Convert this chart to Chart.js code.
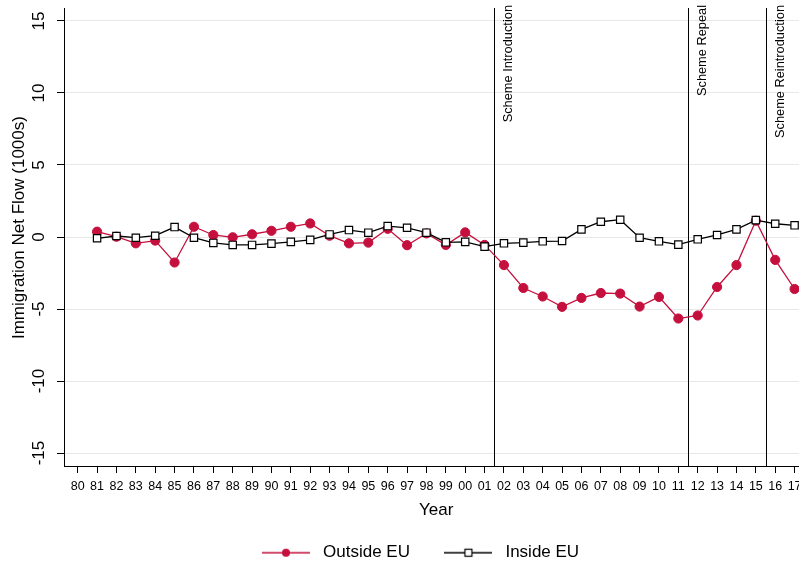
<!DOCTYPE html>
<html>
<head>
<meta charset="utf-8">
<script src="https://cdn.jsdelivr.net/npm/chart.js@4.4.0/dist/chart.umd.min.js"></script>
<style>
 html,body{margin:0;padding:0;background:#fff;}
 #wrap{width:799px;height:564px;position:relative;}
</style>
</head>
<body>
<div id="wrap"><canvas id="chart"></canvas></div>
<script>
/* data */
var years=[1981,1982,1983,1984,1985,1986,1987,1988,1989,1990,1991,1992,1993,1994,1995,1996,1997,1998,1999,2000,
 2001,2002,2003,2004,2005,2006,2007,2008,2009,2010,2011,2012,2013,2014,2015,2016,2017];
var outside_eu=[0.37,0.02,-0.44,-0.25,-1.77,0.71,0.14,-0.02,0.19,0.43,0.71,0.94,0.09,-0.44,-0.39,0.57,-0.57,0.25,-0.55,0.32,
 -0.55,-1.95,-3.54,-4.13,-4.85,-4.23,-3.89,-3.93,-4.83,-4.16,-5.66,-5.45,-3.47,-1.95,1.13,-1.59,-3.61];
var inside_eu=[-0.09,0.07,-0.05,0.09,0.69,-0.05,-0.41,-0.55,-0.55,-0.46,-0.34,-0.2,0.18,0.48,0.30,0.76,0.64,0.30,-0.37,-0.34,
 -0.67,-0.44,-0.39,-0.30,-0.28,0.53,1.06,1.20,-0.05,-0.30,-0.53,-0.16,0.14,0.53,1.17,0.92,0.81];
var x_ticks=[1980,1981,1982,1983,1984,1985,1986,1987,1988,1989,1990,1991,1992,1993,1994,1995,1996,1997,1998,1999,
 2000,2001,2002,2003,2004,2005,2006,2007,2008,2009,2010,2011,2012,2013,2014,2015,2016,2017];
var x_tick_labels=["80","81","82","83","84","85","86","87","88","89","90","91","92","93","94","95","96","97","98","99",
 "00","01","02","03","04","05","06","07","08","09","10","11","12","13","14","15","16","17"];
var y_ticks=[-15,-10,-5,0,5,10,15];
var event_years=[2001.5,2011.5,2015.5];
var event_labels=["Scheme Introduction","Scheme Repeal","Scheme Reintroduction"];

/* style */
var red='#c50f3c';
var font_family='"Liberation Sans", Arial, Helvetica, sans-serif';
Chart.defaults.font.family=font_family;
Chart.defaults.color='#000';

/* legend icon: line with marker in the middle */
function legend_icon(type,color){
 var c=document.createElement('canvas');
 c.width=48; c.height=12;
 var g=c.getContext('2d');
 g.strokeStyle=color; g.lineWidth=1.3;
 g.beginPath(); g.moveTo(0,6); g.lineTo(48,6); g.stroke();
 if(type=='circle'){
  g.fillStyle=color; g.beginPath(); g.arc(24,6,4,0,Math.PI*2); g.fill();
 }else{
  g.fillStyle='#fff'; g.lineWidth=1.2;
  g.fillRect(20.5,2.5,7,7); g.strokeRect(20.5,2.5,7,7);
 }
 return c;
}

/* event lines and their labels */
var events_plugin={
 id:'events',
 beforeDatasetsDraw:function(chart){
  var ctx=chart.ctx, area=chart.chartArea, xs=chart.scales.x;
  ctx.save();
  for(var i=0;i<event_years.length;i++){
   var px=Math.round(xs.getPixelForValue(event_years[i]))+0.5;
   ctx.strokeStyle='#000'; ctx.lineWidth=1;
   ctx.beginPath(); ctx.moveTo(px,area.top); ctx.lineTo(px,area.bottom); ctx.stroke();
   ctx.save();
   ctx.translate(px+13.5,area.top-3);
   ctx.rotate(-Math.PI/2);
   ctx.fillStyle='#000';
   ctx.font='12.8px '+font_family;
   ctx.textAlign='right'; ctx.textBaseline='middle';
   ctx.fillText(event_labels[i],0,0);
   ctx.restore();
  }
  ctx.restore();
 }
};

/* move legend under the plot region */
var legend_start_x=257.5, legend_row_top=544.2;
var legend_plugin={
 id:'legend_shift',
 afterLayout:function(chart){
  var lg=chart.legend; if(!lg||!lg.lineWidths) return;
  var p=lg.options.labels.padding;
  var start=(lg.left+p+lg.right-lg.lineWidths[0])/2;
  var dx=legend_start_x-start;
  lg.left+=dx; lg.right+=dx;
  lg.top=legend_row_top-p;
  lg.bottom=chart.height;
  lg.height=lg.bottom-lg.top;
 }
};

var icons=[legend_icon('circle',red),legend_icon('rect','#000')];

var ctx=document.getElementById('chart').getContext('2d');
var myChart=new Chart(ctx,{
 type:'line',
 data:{
  datasets:[
   {
    label:'Inside EU',
    data:years.map(function(y,i){return {x:y,y:inside_eu[i]};}),
    borderColor:'#000',
    borderWidth:1.3,
    pointStyle:'rect',
    pointRadius:5.2,
    pointBackgroundColor:'#fff',
    pointBorderColor:'#000',
    pointBorderWidth:1.2,
    tension:0,
    fill:false
   },
   {
    label:'Outside EU',
    data:years.map(function(y,i){return {x:y,y:outside_eu[i]};}),
    borderColor:red,
    borderWidth:1.3,
    pointStyle:'circle',
    pointRadius:4.6,
    pointBackgroundColor:red,
    pointBorderColor:red,
    pointBorderWidth:1,
    tension:0,
    fill:false
   }
  ]
 },
 options:{
  responsive:true,
  maintainAspectRatio:false,
  animation:false,
  events:[],
  layout:{autoPadding:false,padding:{top:8,left:0,right:0,bottom:0}},
  plugins:{
   tooltip:{enabled:false},
   legend:{
    position:'bottom',
    maxHeight:40,
    onClick:function(){},
    labels:{
     usePointStyle:true,
     pointStyleWidth:57,
     padding:30,
     color:'#000',
     font:{size:17},
     generateLabels:function(){
      return [
       {text:'Outside EU',pointStyle:icons[0],fillStyle:red,strokeStyle:red,lineWidth:0,hidden:false,datasetIndex:1,fontColor:'#000'},
       {text:'Inside EU',pointStyle:icons[1],fillStyle:'#fff',strokeStyle:'#000',lineWidth:0,hidden:false,datasetIndex:0,fontColor:'#000'}
      ];
     }
    }
   }
  },
  scales:{
   x:{
    type:'linear',
    min:1979.293,
    max:2017.228,
    bounds:'data',
    afterBuildTicks:function(s){s.ticks=x_ticks.map(function(v){return {value:v};});},
    ticks:{
     autoSkip:false,minRotation:0,maxRotation:0,padding:6.5,color:'#000',
     font:{size:12.5},
     callback:function(v,i){return x_tick_labels[i];}
    },
    grid:{drawOnChartArea:false,tickLength:7,tickColor:'#000',tickWidth:1},
    border:{color:'#000',width:1},
    title:{display:true,text:'  Year',color:'#000',font:{size:17},padding:{top:0,bottom:3.8}},
    afterFit:function(s){s.height=58;s.paddingLeft=0;s.paddingRight=0;}
   },
   y:{
    min:-15.9,
    max:15.9,
    bounds:'data',
    afterBuildTicks:function(s){s.ticks=y_ticks.map(function(v){return {value:v};});},
    ticks:{minRotation:90,maxRotation:90,crossAlign:'center',padding:5,color:'#000',font:{size:17}},
    grid:{color:'#e8e8e8',lineWidth:1,tickColor:'#000',tickLength:7},
    border:{color:'#000',width:1},
    title:{display:true,text:'    Immigration Net Flow (1000s)',color:'#000',font:{size:17},padding:{top:9,bottom:0}},
    afterFit:function(s){s.width=64;s.paddingTop=0;s.paddingBottom=0;}
   }
  }
 },
 plugins:[events_plugin,legend_plugin]
});
</script>
</body>
</html>
